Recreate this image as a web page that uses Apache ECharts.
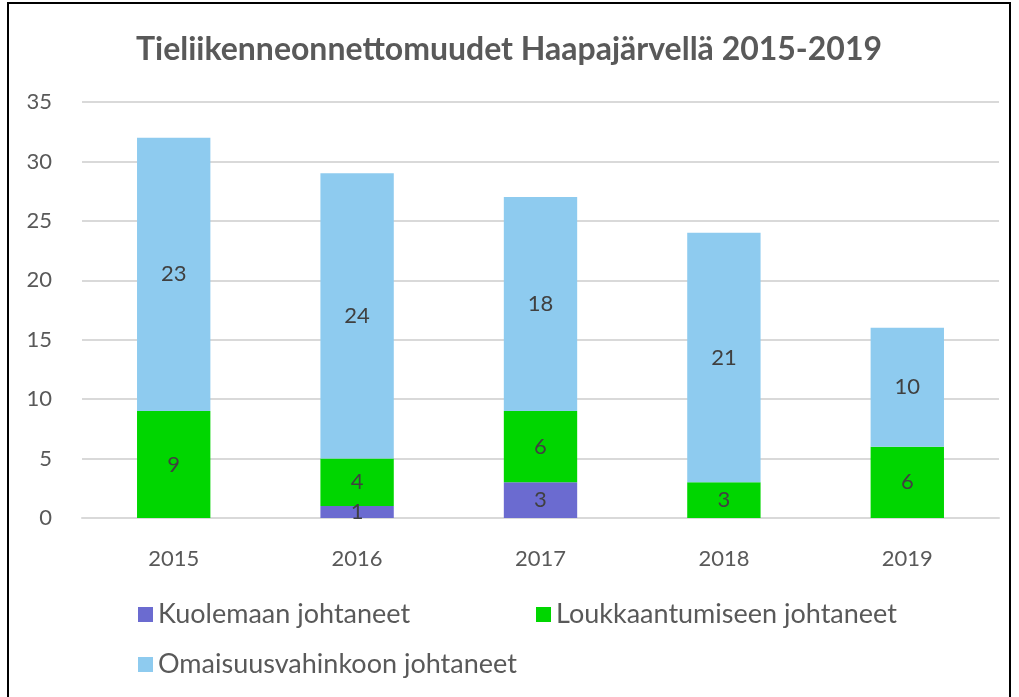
<!DOCTYPE html>
<html>
<head>
<meta charset="utf-8">
<script src="https://cdn.jsdelivr.net/npm/echarts@6/dist/echarts.min.js"></script>
<style>
  html, body { margin: 0; padding: 0; background: #fff; }
  #frame {
    position: absolute; left: 7px; top: 2px; width: 1004px; height: 700px;
    border: 2px solid #000; box-sizing: border-box; overflow: hidden;
  }
  #chart { width: 1000px; height: 700px; }
</style>
</head>
<body>
<div id="frame"><div id="chart"></div></div>
<script>
var years = ["2015", "2016", "2017", "2018", "2019"];
var kuolemaan = [0, 1, 3, 0, 0];
var loukkaantumiseen = [9, 4, 6, 3, 6];
var omaisuus = [23, 24, 18, 21, 10];
var seriesNames = ["Kuolemaan johtaneet", "Loukkaantumiseen johtaneet", "Omaisuusvahinkoon johtaneet"];
var colors = ["#6b6bd0", "#00d600", "#8ecbef"];
var font = "Lato, 'Open Sans', sans-serif";

var myChart = echarts.init(document.getElementById("chart"));

function makeSeries(name, data, color) {
  return {
    name: name,
    type: "bar",
    stack: "total",
    barWidth: "40%",
    data: data,
    itemStyle: { color: color },
    label: {
      show: true,
      position: "inside",
      color: "#404040",
      fontSize: 22,
      fontFamily: font,
      formatter: function(p) { return p.value === 0 ? "" : p.value; }
    }
  };
}

var legendText = { color: "#595959", fontSize: 27, fontFamily: font };

var option = {
  animation: false,
  title: {
    text: "Tieliikenneonnettomuudet Haapajärvellä 2015-2019",
    left: "center",
    top: 25,
    textStyle: { color: "#595959", fontSize: 32, fontWeight: "bold", fontFamily: font }
  },
  legend: [
    {
      data: [seriesNames[0]], left: 124, top: 592, itemWidth: 15, itemHeight: 15,
      icon: "rect", textStyle: legendText
    },
    {
      data: [seriesNames[1]], left: 522, top: 592, itemWidth: 15, itemHeight: 15,
      icon: "rect", textStyle: legendText
    },
    {
      data: [seriesNames[2]], left: 124, top: 642, itemWidth: 15, itemHeight: 15,
      icon: "rect", textStyle: legendText
    }
  ],
  grid: { left: 73, right: 10, top: 98, height: 416 },
  xAxis: {
    type: "category",
    data: years,
    axisTick: { show: false },
    axisLine: { lineStyle: { color: "#d9d9d9", width: 2 } },
    axisLabel: { color: "#595959", fontSize: 22, fontFamily: font, margin: 30 }
  },
  yAxis: {
    type: "value",
    min: 0,
    max: 35,
    interval: 5,
    axisLine: { show: false },
    axisTick: { show: false },
    splitLine: { lineStyle: { color: "#d9d9d9", width: 2 } },
    axisLabel: { color: "#595959", fontSize: 22, fontFamily: font, margin: 30 }
  },
  series: [
    makeSeries(seriesNames[0], kuolemaan, colors[0]),
    makeSeries(seriesNames[1], loukkaantumiseen, colors[1]),
    makeSeries(seriesNames[2], omaisuus, colors[2])
  ]
};

myChart.setOption(option);
</script>
</body>
</html>
